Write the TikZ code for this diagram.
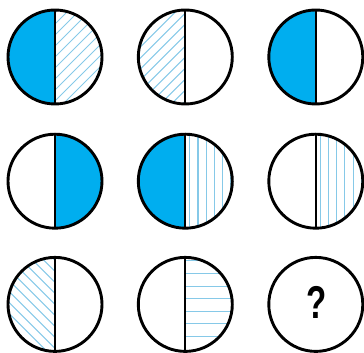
\documentclass[tikz,border=0pt]{standalone}
\usepackage{fontspec}
\newfontfamily\qfont{Liberation Sans}
\definecolor{cblue}{HTML}{00AEEF}
\definecolor{hblue}{HTML}{86C9E8}
\newcommand\RR{47}
\newcommand\LeftHalf{(0,\RR) arc[start angle=90,end angle=270,radius=\RR] -- cycle}
\newcommand\RightHalf{(0,\RR) arc[start angle=90,end angle=-90,radius=\RR] -- cycle}
\tikzset{
  solidfill/.style={fill=cblue},
  hatchline/.style={draw=hblue, line width=1.05pt},
  ring/.style={draw=black, line width=2.9pt},
  divider/.style={draw=black, line width=2.3pt},
}
\newcommand\Ring{\draw[ring] (0,0) circle[radius=\RR]; \draw[divider] (0,\RR) -- (0,-\RR);}
\newcommand\HatchNE{\foreach \c in {-121,-110,...,121} {\draw[hatchline] (\c-70,-70) -- (\c+70,70);}}
\newcommand\HatchNW{\foreach \c in {-121,-110,...,121} {\draw[hatchline] (\c-70,70) -- (\c+70,-70);}}
\newcommand\HatchV{\foreach \c in {4.5,12.7,20.9,29.1,37.3,45.5} {\draw[hatchline] (\c,-60) -- (\c,60);}}
\newcommand\HatchH{\foreach \c in {43.5,30.5,18,5.5,-7,-19.5,-32} {\draw[hatchline] (0,\c) -- (60,\c);}}
\begin{document}
\begin{tikzpicture}[x=1pt,y=1pt]
\useasboundingbox (0,0) rectangle (364,353);
% row 1
\begin{scope}[shift={(55,296)}]
  \fill[solidfill] \LeftHalf;
  \begin{scope}\clip \RightHalf; \HatchNE \end{scope}
  \Ring
\end{scope}
\begin{scope}[shift={(185.3,296)}]
  \begin{scope}\clip \LeftHalf; \HatchNE \end{scope}
  \Ring
\end{scope}
\begin{scope}[shift={(315.8,296)}]
  \fill[solidfill] \LeftHalf;
  \Ring
\end{scope}
% row 2
\begin{scope}[shift={(55,171.8)}]
  \fill[solidfill] \RightHalf;
  \Ring
\end{scope}
\begin{scope}[shift={(185.3,171.8)}]
  \fill[solidfill] \LeftHalf;
  \begin{scope}\clip \RightHalf; \HatchV \end{scope}
  \Ring
\end{scope}
\begin{scope}[shift={(315.8,171.8)}]
  \begin{scope}\clip \RightHalf; \HatchV \end{scope}
  \Ring
\end{scope}
% row 3
\begin{scope}[shift={(55,48.6)}]
  \begin{scope}\clip \LeftHalf; \HatchNW \end{scope}
  \Ring
\end{scope}
\begin{scope}[shift={(185.3,48.6)}]
  \begin{scope}\clip \RightHalf; \HatchH \end{scope}
  \Ring
\end{scope}
\begin{scope}[shift={(315.8,48.6)}]
  \draw[ring] (0,0) circle[radius=\RR];
  \node[inner sep=0pt, xscale=0.72] (q) at (0.8,1.5) {\fontsize{46}{46}\qfont\bfseries ?};
\end{scope}
\end{tikzpicture}
\end{document}
